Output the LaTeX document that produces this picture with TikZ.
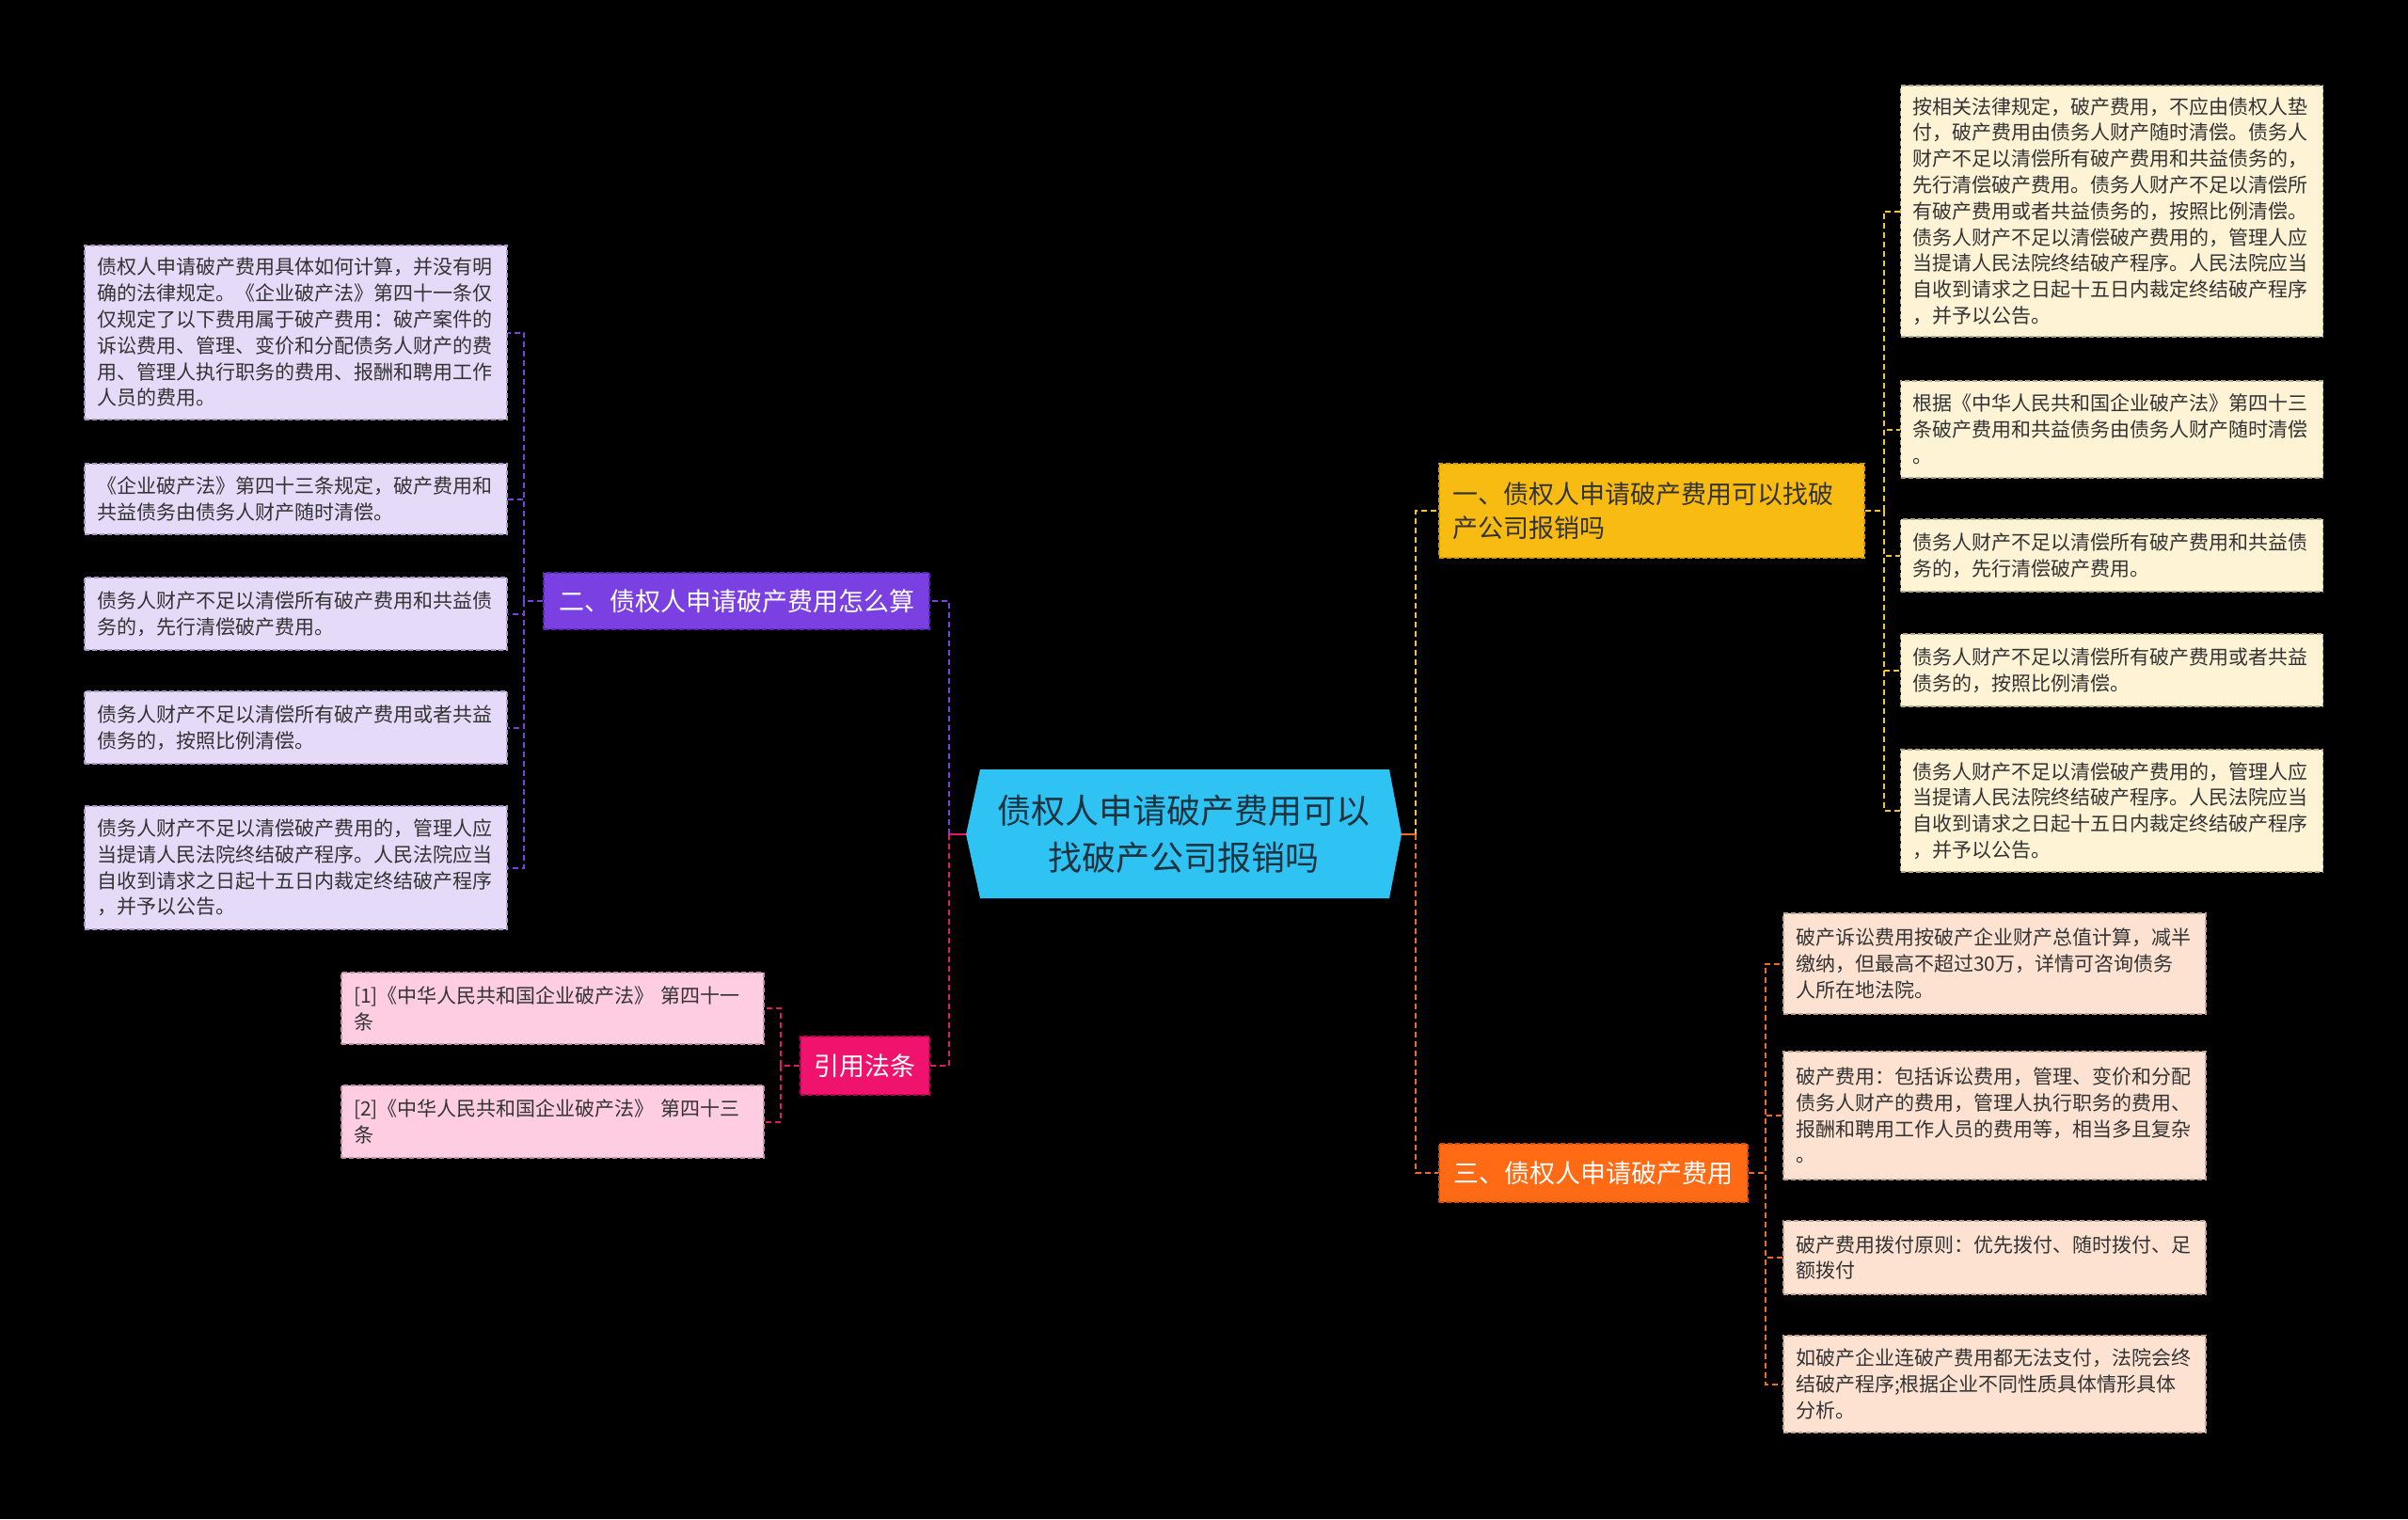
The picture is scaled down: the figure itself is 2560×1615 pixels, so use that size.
\documentclass[tikz,border=0pt]{standalone}
\usepackage{fontspec}
\setmainfont{Noto Sans CJK SC}
\definecolor{bg}{HTML}{000000}
\definecolor{cyanC}{HTML}{2FC3F3}
\definecolor{ctxt}{HTML}{1E3340}
\definecolor{txt}{HTML}{333333}
\definecolor{yel}{HTML}{F8BB12}
\definecolor{yelD}{HTML}{D99C00}
\definecolor{pur}{HTML}{7B40E2}
\definecolor{purD}{HTML}{5A28B8}
\definecolor{pnk}{HTML}{F0136E}
\definecolor{pnkD}{HTML}{C00050}
\definecolor{org}{HTML}{FF6A14}
\definecolor{orgD}{HTML}{D84E00}
\definecolor{cream}{HTML}{FEF3D5}
\definecolor{creamD}{HTML}{B8A880}
\definecolor{lav}{HTML}{E6DAF9}
\definecolor{lavD}{HTML}{A898C8}
\definecolor{lpnk}{HTML}{FECDE1}
\definecolor{lpnkD}{HTML}{C890A8}
\definecolor{peach}{HTML}{FDE2D2}
\definecolor{peachD}{HTML}{C8A090}
\definecolor{cY}{HTML}{F2C43A}
\definecolor{cP}{HTML}{7B40E2}
\definecolor{cK}{HTML}{E0186E}
\definecolor{cO}{HTML}{F06A20}
\begin{document}
\begin{tikzpicture}[x=1pt,y=-1pt,
  conn/.style={line width=2pt, dash pattern=on 6pt off 4pt},
  leaf/.style={rectangle, draw, line width=1.5pt, dash pattern=on 5pt off 3pt,
    inner xsep=13pt, inner ysep=0pt, text width=423pt, minimum width=449pt,
    align=left, text=txt, font=\fontsize{21}{27.8}\selectfont},
  branch/.style={rectangle, draw, line width=1.5pt, dash pattern=on 5pt off 3pt,
    inner xsep=12pt, inner ysep=0pt, font=\fontsize{27}{36}\selectfont},
]
\fill[bg] (0,0) rectangle (2560,1615);
\useasboundingbox (0,0) rectangle (2560,1615);

% central hexagon
\fill[cyanC] (1027,887) -- (1042,818) -- (1477,818) -- (1490,887) -- (1477,955) -- (1042,955) -- cycle;
\node[minimum width=463pt, minimum height=137pt, inner sep=0pt, align=center, text=ctxt,
  font=\fontsize{36}{50}\selectfont] (c) at (1258.5,887) {债权人申请破产费用可以\\找破产公司报销吗};

% branches
\node[branch, fill=yel, draw=yelD, text=txt, minimum width=452pt, minimum height=100pt,
  text width=424pt, align=left] (b1) at (1756,543) {一、债权人申请破产费用可以找破\\产公司报销吗};
\node[branch, fill=pur, draw=purD, text=white, minimum width=410pt, minimum height=60pt] (b2) at (783,639) {二、债权人申请破产费用怎么算};
\node[branch, fill=org, draw=orgD, text=white, minimum width=328pt, minimum height=62pt] (b3) at (1694,1247) {三、债权人申请破产费用};
\node[branch, fill=pnk, draw=pnkD, text=white, minimum width=137pt, minimum height=62pt] (b4) at (919.5,1133) {引用法条};

% right top leaves
\node[leaf, fill=cream, draw=creamD, minimum height=267pt] (r1) at (2245,224.5) {按相关法律规定，破产费用，不应由债权人垫\\付，破产费用由债务人财产随时清偿。债务人\\财产不足以清偿所有破产费用和共益债务的，\\先行清偿破产费用。债务人财产不足以清偿所\\有破产费用或者共益债务的，按照比例清偿。\\债务人财产不足以清偿破产费用的，管理人应\\当提请人民法院终结破产程序。人民法院应当\\自收到请求之日起十五日内裁定终结破产程序\\，并予以公告。};
\node[leaf, fill=cream, draw=creamD, minimum height=103pt] (r2) at (2245,456.5) {根据《中华人民共和国企业破产法》第四十三\\条破产费用和共益债务由债务人财产随时清偿\\。};
\node[leaf, fill=cream, draw=creamD, minimum height=77pt] (r3) at (2245,590.5) {债务人财产不足以清偿所有破产费用和共益债\\务的，先行清偿破产费用。};
\node[leaf, fill=cream, draw=creamD, minimum height=77pt] (r4) at (2245,712.5) {债务人财产不足以清偿所有破产费用或者共益\\债务的，按照比例清偿。};
\node[leaf, fill=cream, draw=creamD, minimum height=130pt] (r5) at (2245,862) {债务人财产不足以清偿破产费用的，管理人应\\当提请人民法院终结破产程序。人民法院应当\\自收到请求之日起十五日内裁定终结破产程序\\，并予以公告。};

% left leaves
\node[leaf, fill=lav, draw=lavD, minimum height=185pt] (l1) at (314.5,353.5) {债权人申请破产费用具体如何计算，并没有明\\确的法律规定。《企业破产法》第四十一条仅\\仅规定了以下费用属于破产费用：破产案件的\\诉讼费用、管理、变价和分配债务人财产的费\\用、管理人执行职务的费用、报酬和聘用工作\\人员的费用。};
\node[leaf, fill=lav, draw=lavD, minimum height=75pt] (l2) at (314.5,530.5) {《企业破产法》第四十三条规定，破产费用和\\共益债务由债务人财产随时清偿。};
\node[leaf, fill=lav, draw=lavD, minimum height=77pt] (l3) at (314.5,652.5) {债务人财产不足以清偿所有破产费用和共益债\\务的，先行清偿破产费用。};
\node[leaf, fill=lav, draw=lavD, minimum height=77pt] (l4) at (314.5,773.5) {债务人财产不足以清偿所有破产费用或者共益\\债务的，按照比例清偿。};
\node[leaf, fill=lav, draw=lavD, minimum height=131pt] (l5) at (314.5,922.5) {债务人财产不足以清偿破产费用的，管理人应\\当提请人民法院终结破产程序。人民法院应当\\自收到请求之日起十五日内裁定终结破产程序\\，并予以公告。};

% citation leaves
\node[leaf, fill=lpnk, draw=lpnkD, minimum height=76pt] (k1) at (587.5,1072) {[1]《中华人民共和国企业破产法》 第四十一\\条};
\node[leaf, fill=lpnk, draw=lpnkD, minimum height=77pt] (k2) at (587.5,1192.5) {[2]《中华人民共和国企业破产法》 第四十三\\条};

% bottom right leaves
\node[leaf, fill=peach, draw=peachD, minimum height=107pt] (d1) at (2120.5,1024.5) {破产诉讼费用按破产企业财产总值计算，减半\\缴纳，但最高不超过30万，详情可咨询债务\\人所在地法院。};
\node[leaf, fill=peach, draw=peachD, minimum height=136pt] (d2) at (2120.5,1186) {破产费用：包括诉讼费用，管理、变价和分配\\债务人财产的费用，管理人执行职务的费用、\\报酬和聘用工作人员的费用等，相当多且复杂\\。};
\node[leaf, fill=peach, draw=peachD, minimum height=78pt] (d3) at (2120.5,1337) {破产费用拨付原则：优先拨付、随时拨付、足\\额拨付};
\node[leaf, fill=peach, draw=peachD, minimum height=103pt] (d4) at (2120.5,1471.5) {如破产企业连破产费用都无法支付，法院会终\\结破产程序;根据企业不同性质具体情形具体\\分析。};

% central connectors
\coordinate (lbus) at (1009,887);
\coordinate (rbus) at (1505,887);
\draw[cK, line width=2.5pt] (c.west) -- (lbus);
\draw[cO, line width=2.5pt] (c.east) -- (rbus);
\draw[conn, cP] (lbus) |- (b2.east);
\draw[conn, cK] (lbus) |- (b4.east);
\draw[conn, cY] (rbus) |- (b1.west);
\draw[conn, cO] (rbus) |- (b3.west);

% branch-to-leaf connectors
\foreach \n in {r1,r2,r3,r4,r5} \draw[conn, cY] (b1.east) -- ++(20,0) |- (\n.west);
\foreach \n in {l1,l2,l3,l4,l5} \draw[conn, cP] (b2.west) -- ++(-20,0) |- (\n.east);
\foreach \n in {k1,k2} \draw[conn, cK] (b4.west) -- ++(-20,0) |- (\n.east);
\foreach \n in {d1,d2,d3,d4} \draw[conn, cO] (b3.east) -- ++(18,0) |- (\n.west);
\end{tikzpicture}
\end{document}
